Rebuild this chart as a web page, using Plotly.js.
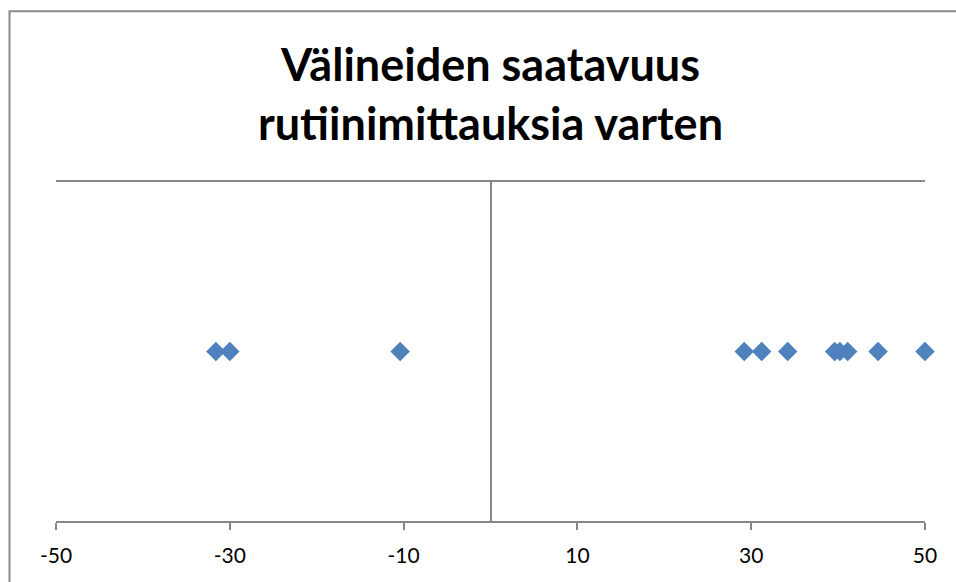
<!DOCTYPE html>
<html>
<head>
<meta charset="utf-8">
<script src="https://cdn.plot.ly/plotly-3.0.1.min.js"></script>
<style>
html,body{margin:0;padding:0;background:#fff;}
#chart{width:956px;height:582px;}
</style>
</head>
<body>
<div id="chart"></div>
<script>
const titleText = "Välineiden saatavuus<br>rutiinimittauksia varten";
const xValues = [-31.6, -30.0, -10.4, 29.2, 31.2, 34.2, 39.6, 40.2, 41.1, 44.6, 50.0];
const yValues = [1, 1, 1, 1, 1, 1, 1, 1, 1, 1, 1];
const xTickVals = [-50, -30, -10, 10, 30, 50];
const xTickText = ["-50", "-30", "-10", "10", "30", "50"];

const lineColor = "#888888";

const trace = {
  type: "scatter",
  mode: "markers",
  x: xValues,
  y: yValues,
  marker: {symbol: "diamond", size: 15, color: "#4f81bd", line: {width: 0}},
  hoverinfo: "x",
  showlegend: false,
  cliponaxis: false
};

const layout = {
  width: 956,
  height: 582,
  margin: {l: 56, r: 31, t: 182, b: 61, pad: 0},
  paper_bgcolor: "#ffffff",
  plot_bgcolor: "#ffffff",
  font: {family: "Lato, 'Open Sans', sans-serif", color: "#000000"},
  title: {
    text: titleText,
    font: {family: "Lato, 'Open Sans', sans-serif", size: 45, weight: 700, color: "#000000"},
    xref: "paper", x: 0.5, xanchor: "center",
    yref: "container", y: 0.86, yanchor: "top"
  },
  xaxis: {
    range: [-50, 50],
    tickvals: xTickVals,
    ticktext: xTickText,
    ticks: "outside",
    ticklen: 7,
    tickwidth: 2,
    tickcolor: lineColor,
    ticklabelstandoff: 8,
    tickfont: {family: "Lato, 'Open Sans', sans-serif", size: 21, color: "#000000"},
    showline: true,
    linecolor: lineColor,
    linewidth: 2,
    mirror: true,
    showgrid: false,
    zeroline: true,
    zerolinecolor: lineColor,
    zerolinewidth: 2,
    fixedrange: true
  },
  yaxis: {
    range: [0, 2],
    showticklabels: false,
    ticks: "",
    showgrid: false,
    zeroline: false,
    showline: false,
    fixedrange: true
  },
  shapes: [{
    type: "rect",
    xref: "paper", yref: "paper",
    x0: -0.0535, x1: 1.3, y0: -0.4, y1: 1.504,
    line: {color: "#8a8a8a", width: 2},
    fillcolor: "rgba(0,0,0,0)",
    layer: "above"
  }]
};

Plotly.newPlot("chart", [trace], layout, {displayModeBar: false, staticPlot: true});
</script>
</body>
</html>
